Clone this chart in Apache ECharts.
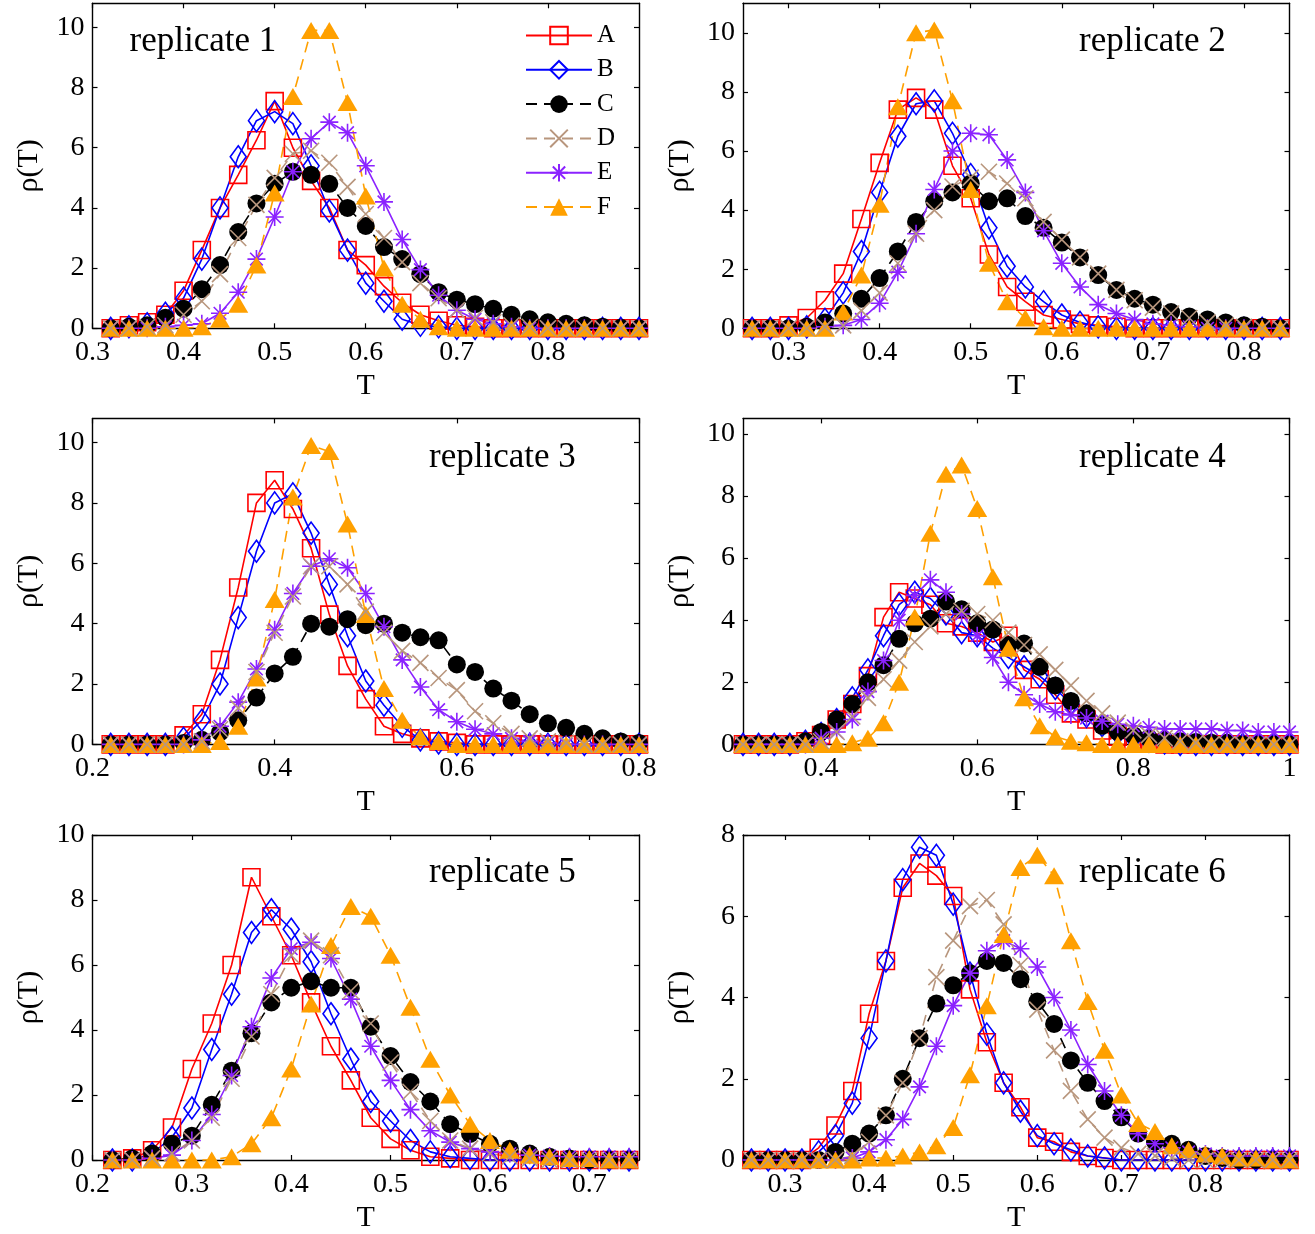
<!DOCTYPE html>
<html><head><meta charset="utf-8">
<script src="https://cdn.jsdelivr.net/npm/echarts@6/dist/echarts.min.js"></script>
<style>html,body{margin:0;padding:0;background:#fff}#c{width:1315px;height:1234px}</style>
</head><body><div id="c"></div>
<script>
// ---------- data ----------
const T1 = [0.32,0.34,0.36,0.38,0.40,0.42,0.44,0.46,0.48,0.50,0.52,0.54,0.56,0.58,0.60,0.62,0.64,0.66,0.68,0.70,0.72,0.74,0.76,0.78,0.80,0.82,0.84,0.86,0.88,0.90];
const A1 = [0,0.1,0.2,0.45,1.25,2.6,4.0,5.1,6.25,7.55,6.0,4.9,4.0,2.6,2.1,1.4,0.85,0.45,0.25,0.1,0.05,0,0,0,0,0,0,0,0,0];
const B1 = [0,0.05,0.15,0.5,1.0,2.3,4.0,5.7,6.9,7.2,6.8,5.4,3.9,2.6,1.5,0.9,0.3,0.1,0.05,0,0,0,0,0,0,0,0,0,0,0];
const C1 = [0,0.05,0.1,0.35,0.65,1.3,2.1,3.2,4.15,4.8,5.2,5.1,4.8,4.0,3.4,2.7,2.3,1.8,1.2,0.95,0.8,0.65,0.45,0.3,0.2,0.15,0.1,0.05,0.02,0];
const D1 = [0,0,0.05,0.1,0.45,0.9,1.8,3.0,4.1,5.0,5.8,5.9,5.5,4.7,3.8,3.0,2.2,1.5,1.0,0.6,0.35,0.2,0.1,0.05,0,0,0,0,0,0];
const E1 = [0,0,0,0.05,0.1,0.15,0.5,1.2,2.3,3.7,5.2,6.3,6.85,6.5,5.4,4.2,2.95,1.95,1.1,0.6,0.3,0.15,0.05,0,0,0,0,0,0,0];
const F1 = [0,0,0,0,0,0.05,0.3,0.8,2.1,4.5,7.7,9.9,9.9,7.5,4.4,2.0,0.8,0.3,0.05,0,0,0,0,0,0,0,0,0,0,0];

const T2 = [0.26,0.28,0.30,0.32,0.34,0.36,0.38,0.40,0.42,0.44,0.46,0.48,0.50,0.52,0.54,0.56,0.58,0.60,0.62,0.64,0.66,0.68,0.70,0.72,0.74,0.76,0.78,0.80,0.82,0.84];
const A2 = [0,0,0.1,0.35,0.95,1.85,3.7,5.6,7.4,7.8,7.4,5.5,4.4,2.5,1.4,0.9,0.45,0.3,0.15,0.1,0.05,0,0,0,0,0,0,0,0,0];
const B2 = [0,0,0,0.05,0.3,1.2,2.6,4.6,6.5,7.6,7.7,6.6,5.2,3.4,2.1,1.4,0.9,0.45,0.2,0.05,0,0,0,0,0,0,0,0,0,0];
const C2 = [0,0,0,0.05,0.2,0.5,1.0,1.7,2.6,3.6,4.3,4.6,4.9,4.3,4.4,3.8,3.4,2.9,2.4,1.8,1.3,1.0,0.8,0.55,0.4,0.3,0.2,0.1,0.05,0];
const D2 = [0,0,0,0,0.05,0.1,0.6,1.2,2.2,3.2,4.0,4.8,5.1,5.3,4.9,4.4,3.6,3.0,2.4,1.85,1.3,0.95,0.7,0.5,0.35,0.2,0.1,0.05,0,0];
const E2 = [0,0,0,0,0.05,0.1,0.3,0.85,1.9,3.2,4.7,6.0,6.6,6.55,5.7,4.6,3.3,2.2,1.4,0.8,0.5,0.3,0.15,0.1,0.05,0,0,0,0,0];
const F2 = [0,0,0,0,0,0.55,1.8,4.2,7.5,10.0,10.1,7.7,4.7,2.2,0.9,0.35,0.05,0,0,0,0,0,0,0,0,0,0,0,0,0];

const T3 = [0.22,0.24,0.26,0.28,0.30,0.32,0.34,0.36,0.38,0.40,0.42,0.44,0.46,0.48,0.50,0.52,0.54,0.56,0.58,0.60,0.62,0.64,0.66,0.68,0.70,0.72,0.74,0.76,0.78,0.80];
const A3 = [0,0,0,0,0.3,1.0,2.8,5.2,8.0,8.75,7.8,6.5,4.3,2.6,1.5,0.6,0.35,0.2,0.1,0.05,0,0,0,0,0,0,0,0,0,0];
const B3 = [0,0,0,0,0.2,0.8,2.0,4.2,6.4,8.0,8.3,7.0,5.3,3.6,2.1,1.3,0.6,0.15,0.05,0,0,0,0,0,0,0,0,0,0,0];
const C3 = [0,0,0,0,0.05,0.15,0.4,0.8,1.55,2.35,2.9,4.0,3.9,4.15,3.95,4.0,3.7,3.55,3.45,2.65,2.4,1.85,1.45,1.0,0.7,0.55,0.35,0.2,0.1,0.05];
const D3 = [0,0,0,0,0,0.1,0.5,1.2,2.4,3.7,4.9,5.9,5.9,5.3,4.4,3.7,3.1,2.7,2.2,1.8,1.1,0.7,0.35,0.2,0.1,0.05,0,0,0,0];
const E3 = [0,0,0,0,0,0.15,0.6,1.4,2.5,3.8,5.0,5.9,6.15,5.85,5.0,3.9,2.8,1.9,1.15,0.75,0.5,0.35,0.2,0.1,0.05,0,0,0,0,0];
const F3 = [0,0,0,0,0,0,0.1,0.6,2.2,4.8,8.2,9.9,9.7,7.3,4.3,1.85,0.8,0.25,0.1,0,0,0,0,0,0,0,0,0,0,0];

const T4 = [0.30,0.32,0.34,0.36,0.38,0.40,0.42,0.44,0.46,0.48,0.50,0.52,0.54,0.56,0.58,0.60,0.62,0.64,0.66,0.68,0.70,0.72,0.74,0.76,0.78,0.80,0.82,0.84,0.86,0.88,0.90,0.92,0.94,0.96,0.98,1.00];
const A4 = [0,0,0,0,0.1,0.3,0.8,1.3,2.2,4.1,4.9,4.7,4.5,3.9,3.8,3.6,3.3,3.5,2.4,2.1,1.6,1.0,0.8,0.45,0.25,0.1,0.05,0,0,0,0,0,0,0,0,0];
const B4 = [0,0,0,0,0.1,0.35,0.8,1.5,2.4,3.5,4.5,4.9,4.7,4.2,3.6,3.5,3.1,2.8,2.5,2.2,1.8,1.3,0.9,0.6,0.35,0.2,0.1,0.05,0,0,0,0,0,0,0,0];
const C4 = [0,0,0,0,0.1,0.4,0.8,1.3,2.0,2.55,3.4,3.9,4.05,4.6,4.35,3.9,3.7,3.2,3.25,2.5,1.9,1.4,1.0,0.6,0.4,0.3,0.2,0.15,0.1,0.08,0.05,0.05,0,0,0,0];
const D4 = [0,0,0,0,0,0.1,0.4,0.9,1.5,2.1,2.7,3.3,3.8,4.2,4.3,4.2,4.0,3.6,3.2,2.9,2.4,1.9,1.4,1.0,0.7,0.45,0.3,0.2,0.1,0.05,0,0,0,0,0,0];
const E4 = [0,0,0,0,0,0.2,0.4,0.8,1.7,2.7,4.0,4.8,5.3,4.9,4.2,3.5,2.8,2.0,1.6,1.3,1.05,0.95,0.85,0.75,0.65,0.6,0.55,0.5,0.5,0.5,0.5,0.45,0.45,0.4,0.4,0.4];
const F4 = [0,0,0,0,0,0,0,0.05,0.2,0.7,2.0,4.1,6.8,8.7,9.0,7.6,5.4,3.1,1.5,0.6,0.25,0.1,0.05,0,0,0,0,0,0,0,0,0,0,0,0,0];

const T5 = [0.22,0.24,0.26,0.28,0.30,0.32,0.34,0.36,0.38,0.40,0.42,0.44,0.46,0.48,0.50,0.52,0.54,0.56,0.58,0.60,0.62,0.64,0.66,0.68,0.70,0.72,0.74];
const A5 = [0,0.05,0.3,1.0,2.8,4.2,6.0,8.7,7.5,6.3,4.85,3.5,2.45,1.3,0.65,0.3,0.1,0.05,0,0,0,0,0,0,0,0,0];
const B5 = [0,0,0.2,0.7,1.6,3.4,5.1,7.0,7.7,7.1,6.1,4.5,3.1,1.8,1.2,0.6,0.25,0.1,0.05,0,0,0,0,0,0,0,0];
const C5 = [0,0.05,0.2,0.5,0.75,1.7,2.75,3.9,4.85,5.3,5.5,5.3,5.3,4.1,3.2,2.4,1.8,1.1,0.8,0.5,0.35,0.2,0.1,0.05,0,0,0];
const D5 = [0,0,0.05,0.2,0.6,1.3,2.5,3.8,5.1,6.3,6.75,6.3,5.2,4.2,3.0,2.1,1.2,0.6,0.35,0.2,0.1,0.05,0,0,0,0,0];
const E5 = [0,0,0.05,0.15,0.6,1.4,2.6,4.1,5.6,6.5,6.7,6.2,4.95,3.5,2.45,1.55,0.9,0.55,0.35,0.25,0.2,0.15,0.12,0.1,0.1,0.1,0.1];
const F5 = [0,0,0,0,0,0,0.1,0.5,1.3,2.8,4.8,6.6,7.8,7.5,6.3,4.7,3.1,2.0,1.1,0.6,0.3,0.15,0.1,0.05,0.05,0,0];

const T6 = [0.26,0.28,0.30,0.32,0.34,0.36,0.38,0.40,0.42,0.44,0.46,0.48,0.50,0.52,0.54,0.56,0.58,0.60,0.62,0.64,0.66,0.68,0.70,0.72,0.74,0.76,0.78,0.80,0.82,0.84,0.86,0.88,0.90];
const A6 = [0,0,0,0,0.3,0.85,1.7,3.6,4.9,6.7,7.3,7.0,6.5,4.2,2.9,1.9,1.3,0.55,0.45,0.2,0.1,0.05,0,0,0,0,0,0,0,0,0,0,0];
const B6 = [0,0,0,0,0.2,0.6,1.4,3.0,4.9,6.9,7.7,7.5,6.3,4.6,3.1,1.9,1.2,0.6,0.4,0.25,0.1,0.05,0,0,0,0,0,0,0,0,0,0,0];
const C6 = [0,0,0,0,0,0.2,0.4,0.65,1.1,2.0,3.0,3.85,4.3,4.6,4.9,4.85,4.45,3.9,3.35,2.45,1.9,1.45,1.05,0.65,0.45,0.4,0.25,0.1,0.05,0,0,0,0];
const D6 = [0,0,0,0,0,0,0.1,0.45,1.1,1.9,3.0,4.5,5.4,6.25,6.4,5.8,4.8,3.7,2.7,1.7,1.0,0.55,0.3,0.15,0.1,0.05,0,0,0,0,0,0,0];
const E6 = [0,0,0,0,0,0,0.05,0.2,0.5,1.0,1.8,2.8,3.8,4.6,5.15,5.4,5.2,4.75,4.0,3.2,2.35,1.7,1.1,0.65,0.4,0.3,0.2,0.15,0.1,0.1,0.1,0.1,0.1];
const F6 = [0,0,0,0,0,0,0,0.05,0.05,0.1,0.2,0.35,0.8,2.1,3.8,5.55,7.2,7.5,7.0,5.4,3.9,2.7,1.6,0.9,0.7,0.35,0.25,0.15,0.1,0.05,0.05,0,0];

const seriesNames = ['A','B','C','D','E','F'];
const panelLabels = ['replicate 1','replicate 2','replicate 3','replicate 4','replicate 5','replicate 6'];
const xTicks = [
  [0.3,0.4,0.5,0.6,0.7,0.8],
  [0.3,0.4,0.5,0.6,0.7,0.8],
  [0.2,0.4,0.6,0.8],
  [0.4,0.6,0.8,1.0],
  [0.2,0.3,0.4,0.5,0.6,0.7],
  [0.3,0.4,0.5,0.6,0.7,0.8]
];
const yTicks = [
  [0,2,4,6,8,10],[0,2,4,6,8,10],[0,2,4,6,8,10],[0,2,4,6,8,10],[0,2,4,6,8,10],[0,2,4,6,8]
];
const xRange = [[0.3,0.9],[0.25,0.85],[0.2,0.8],[0.3,1.0],[0.2,0.75],[0.25,0.9]];
const yRange = [[0,10.8],[0,11],[0,10.8],[0,10.5],[0,10],[0,8]];

const panels = [
  {T:T1, v:{A:A1,B:B1,C:C1,D:D1,E:E1,F:F1}},
  {T:T2, v:{A:A2,B:B2,C:C2,D:D2,E:E2,F:F2}},
  {T:T3, v:{A:A3,B:B3,C:C3,D:D3,E:E3,F:F3}},
  {T:T4, v:{A:A4,B:B4,C:C4,D:D4,E:E4,F:F4}},
  {T:T5, v:{A:A5,B:B5,C:C5,D:D5,E:E5,F:F5}},
  {T:T6, v:{A:A6,B:B6,C:C6,D:D6,E:E6,F:F6}}
];

// ---------- styles / layout ----------
const FONT = '"Liberation Serif", "Times New Roman", serif';
const STY = {
  A:{symbol:'rect', size:17, color:'#ff0000', fill:false, dash:false},
  B:{symbol:'diamond', size:[16,22], color:'#0000ff', fill:false, dash:false},
  C:{symbol:'circle', size:18, color:'#000000', fill:true, dash:true},
  D:{symbol:'path://M0,0L20,20M0,20L20,0', size:16, color:'#b8967d', fill:false, dash:true},
  E:{symbol:'path://M10,0L10,20M0,10L20,10M3,3L17,17M3,17L17,3', size:18, color:'#8b22ff', fill:false, dash:false},
  F:{symbol:'triangle', size:[20,17], color:'#ffa000', fill:true, dash:true}
};
const drawOrder = ['A','B','C','E','F','D'];
const colLeft = [92.5, 743];
const colWidth = 546.5;
const rowTop = [3.3, 418.4, 835];
const rowHeight = [325, 326, 326];
const labelPos = [[129.5,42],[1079,42],[429,457.5],[1079,457.5],[429,872.5],[1079,872.5]];

const grids = [], xAxes = [], yAxes = [], series = [], graphics = [];
panels.forEach((p, i) => {
  const col = i % 2, row = Math.floor(i / 2);
  grids.push({left: colLeft[col], top: rowTop[row], width: colWidth, height: rowHeight[row], show:false});
  const lineSt = {show:true, onZero:false, lineStyle:{color:'#000', width:1.4}};
  const fmt = v => String(+(+v).toFixed(2));
  xAxes.push({
    type:'value', gridIndex:i, position:'bottom', min:xRange[i][0], max:xRange[i][1],
    axisLine: lineSt,
    axisTick:{show:true, inside:true, length:5, customValues:xTicks[i], lineStyle:{color:'#000', width:1.2}},
    axisLabel:{show:true, customValues:xTicks[i], formatter:fmt, margin:10.5, fontSize:28, fontFamily:FONT, color:'#000'},
    splitLine:{show:false},
    name:'T', nameLocation:'middle', nameGap:43,
    nameTextStyle:{fontSize:30, fontFamily:FONT, color:'#000'}
  });
  xAxes.push({
    type:'value', gridIndex:i, position:'top', min:xRange[i][0], max:xRange[i][1],
    axisLine: lineSt,
    axisTick:{show:true, inside:true, length:5, customValues:xTicks[i], lineStyle:{color:'#000', width:1.2}},
    axisLabel:{show:false}, splitLine:{show:false}
  });
  yAxes.push({
    type:'value', gridIndex:i, position:'left', min:yRange[i][0], max:yRange[i][1],
    axisLine: lineSt,
    axisTick:{show:true, inside:true, length:5, customValues:yTicks[i], lineStyle:{color:'#000', width:1.2}},
    axisLabel:{show:true, customValues:yTicks[i], formatter:fmt, margin:8, fontSize:28, fontFamily:FONT, color:'#000'},
    splitLine:{show:false},
    name:'ρ(T)', nameLocation:'middle', nameGap:48,
    nameTextStyle:{fontSize:30, fontFamily:FONT, color:'#000'}
  });
  yAxes.push({
    type:'value', gridIndex:i, position:'right', min:yRange[i][0], max:yRange[i][1],
    axisLine: lineSt,
    axisTick:{show:true, inside:true, length:5, customValues:yTicks[i], lineStyle:{color:'#000', width:1.2}},
    axisLabel:{show:false}, splitLine:{show:false}
  });
  drawOrder.forEach(k => {
    const s = STY[k];
    series.push({
      type:'line', name:k, xAxisIndex:2*i, yAxisIndex:2*i,
      data: p.T.map((t, j) => [t, p.v[k][j]]),
      symbol:s.symbol, symbolSize:s.size, showSymbol:true, showAllSymbol:true, clip:false,
      lineStyle:{color:s.color, width:1.6, type: s.dash ? [11,7] : 'solid'},
      itemStyle: s.fill
        ? {color:s.color, borderColor:s.color, borderWidth:0}
        : {color:'rgba(0,0,0,0)', borderColor:s.color, borderWidth:1.6},
      emphasis:{disabled:true}, animation:false
    });
  });
  graphics.push({
    type:'text', left:labelPos[i][0], top:labelPos[i][1] - 17.5,
    style:{text:panelLabels[i], font:'35px ' + FONT, fill:'#000'}
  });
});

const chart = echarts.init(document.getElementById('c'), null, {renderer:'canvas'});
chart.setOption({
  animation:false,
  backgroundColor:'#fff',
  grid: grids, xAxis: xAxes, yAxis: yAxes, series: series,
  legend:{
    data: seriesNames, orient:'vertical', left:525, top:23, padding:0,
    itemWidth:66, itemHeight:22, itemGap:9.3, selectedMode:false,
    textStyle:{fontFamily:FONT, fontSize:25, color:'#000'}
  },
  graphic: graphics
});
</script>
</body></html>
